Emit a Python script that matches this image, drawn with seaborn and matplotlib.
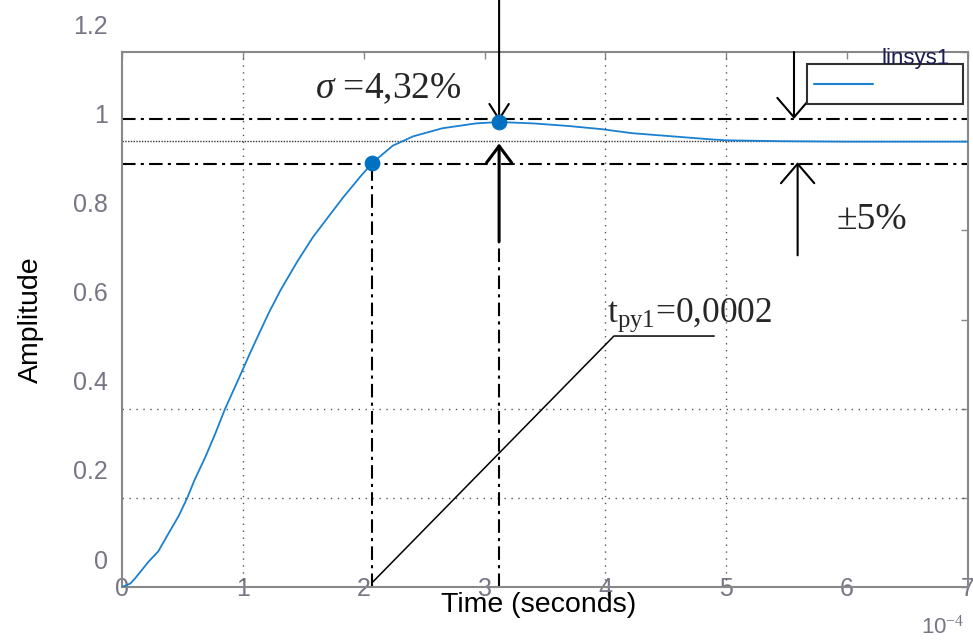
import numpy as np
import matplotlib
matplotlib.use("Agg")
import matplotlib.pyplot as plt
import matplotlib.transforms as mtransforms
from matplotlib.patches import Rectangle
from matplotlib.lines import Line2D
import seaborn as sns

# step response (time in units of 1e-4 s)
time_1e4 = [0, 0.07, 0.11, 0.22, 0.30, 0.38, 0.47, 0.54, 0.60, 0.69, 0.77, 0.85,
            0.96, 1.06, 1.14, 1.22, 1.31, 1.45, 1.58, 1.72, 1.83, 1.97, 2.07, 2.24,
            2.41, 2.65, 2.93, 3.12, 3.40, 3.70, 3.97, 4.22, 4.55, 4.88, 5.00, 5.46,
            6.00, 7.00]
amplitude = [0, 0.008, 0.020, 0.057, 0.080, 0.118, 0.160, 0.200, 0.240, 0.292, 0.343, 0.398,
             0.464, 0.525, 0.572, 0.618, 0.665, 0.730, 0.785, 0.835, 0.874, 0.920, 0.951, 0.990,
             1.011, 1.029, 1.040, 1.043, 1.040, 1.034, 1.027, 1.018, 1.011, 1.004, 1.002, 1.000,
             0.999, 0.999]

# settling point and overshoot peak
marker_t = [2.07, 3.12]
marker_y = [0.951, 1.043]

steady = 1.0
band = [0.95, 1.05]

x_ticks = [0, 1, 2, 3, 4, 5, 6, 7]
y_ticks = [0, 0.2, 0.4, 0.6, 0.8, 1.0, 1.2]
y_ticklabels = ["0", "0.2", "0.4", "0.6", "0.8", "1", "1.2"]
grid_x = [1, 4, 5]
grid_y = [0.2, 0.4]

# leader line for the settling time label
leader_t = [2.07, 4.07, 4.90]
leader_y = [0.01, 0.563, 0.563]

sns.set_style("white")
plt.rcParams["font.family"] = ["Liberation Sans", "DejaVu Sans"]
plt.rcParams["mathtext.fontset"] = "custom"
plt.rcParams["mathtext.rm"] = "Liberation Serif"
plt.rcParams["mathtext.it"] = "Liberation Serif:italic"

curve_col = "#1a80d0"
dot_col = "#0070c0"
tick_col = "#767685"
serif = ["Liberation Serif", "DejaVu Serif"]

fig = plt.figure(figsize=(9.73, 6.41), dpi=100)
ax = fig.add_axes([0.1254, 0.0842, 0.8695, 0.8346])

# grid (only the lines that show in the original)
for g in grid_x:
    ax.axvline(g, color="#555555", lw=1, ls=(0, (1, 4)), zorder=1)
for g in grid_y:
    ax.axhline(g, color="#555555", lw=1, ls=(0, (1, 4)), zorder=1)
ax.axhline(steady, color="#333333", lw=1, ls=(0, (1, 1)), zorder=1)

dashdot = (0, (6.5, 2.5, 1.5, 2.5))
for b in band:
    ax.axhline(b, color="black", lw=1.5, ls=dashdot, zorder=2)
ax.vlines(marker_t[0], 0, marker_y[0], color="black", lw=1.5, ls=dashdot, zorder=2)
ax.vlines(marker_t[1], 0, 0.775, color="black", lw=1.5, ls=dashdot, zorder=2)

sns.lineplot(x=time_1e4, y=amplitude, ax=ax, color=curve_col, lw=1.3,
             estimator=None, sort=False, zorder=3)
sns.scatterplot(x=marker_t, y=marker_y, ax=ax, s=110, color=dot_col,
                edgecolor=dot_col, zorder=4)

ax.plot(leader_t, leader_y, color="black", lw=1.1, zorder=3)

# arrows
def arrow(x0, y0, x1, y1, lw=1.5, hl=0.7, hw=0.6):
    ax.annotate("", xy=(x1, y1), xytext=(x0, y0), annotation_clip=False,
                arrowprops=dict(arrowstyle="->,head_length=%s,head_width=%s" % (hl, hw),
                                color="black", lw=lw, mutation_scale=20,
                                shrinkA=0, shrinkB=0))

arrow(3.12, 1.32, 3.12, 1.045, lw=1.5, hl=0.55, hw=0.35)
arrow(3.12, 0.775, 3.12, 0.995, lw=2.2, hl=0.6, hw=0.45)
arrow(5.56, 1.2, 5.56, 1.05, lw=1.5, hl=0.7, hw=0.6)
arrow(5.59, 0.744, 5.59, 0.953, lw=1.5, hl=0.7, hw=0.6)

ax.text(1.595, 1.118, r"$\sigma$ =4,32%", fontsize=27, family=serif, va="center")
ax.text(6.2, 0.823, "\u00b15%", fontsize=27, family=serif, ha="center", va="center")
ax.text(4.01, 0.594, r"t$_{\mathrm{py1}}$=0,0002", fontsize=25.5, family=serif, va="baseline")

# legend box as drawn by MATLAB
ax.add_patch(Rectangle((0.8097, 0.9028), 0.1843, 0.0748, transform=ax.transAxes,
                       facecolor="white", edgecolor="#303030", lw=1.5, zorder=5,
                       clip_on=False))
ax.add_line(Line2D([0.818, 0.8877], [0.940, 0.940], transform=ax.transAxes,
                   color=curve_col, lw=1.5, zorder=6))
ax.text(0.9385, 0.988, "linsys1", transform=ax.transAxes, fontsize=16,
        color="#1c1c50", ha="center", va="center", zorder=7)

ax.set_xlim(0, 7)
ax.set_ylim(0, 1.2)
ax.set_xticks(x_ticks)
ax.set_xticklabels([str(v) for v in x_ticks])
ax.set_yticks(y_ticks)
ax.set_yticklabels(y_ticklabels)
ax.tick_params(direction="in", length=5, width=1, color="#888888", top=True, right=True,
               labelsize=18, labelcolor=tick_col)
ax.tick_params(axis="x", pad=-7)
ax.tick_params(axis="y", pad=10)

shift = mtransforms.ScaledTranslation(0, 0.28, fig.dpi_scale_trans)
for t in ax.yaxis.get_major_ticks():
    t.label1.set_transform(t.label1.get_transform() + shift)

for s in ax.spines.values():
    s.set_color("#888888")
    s.set_linewidth(1.5)

ax.set_xlabel("Time (seconds)", fontsize=20.5, color="black")
ax.xaxis.set_label_coords(0.493, -0.01)
ax.set_ylabel("Amplitude", fontsize=20.5, color="black")
ax.yaxis.set_label_coords(-0.092, 0.5)
ax.text(0.995, -0.076, r"10$^{-4}$", transform=ax.transAxes, fontsize=16,
        color=tick_col, ha="right", va="center", family=["Liberation Sans", "DejaVu Sans"])

fig.savefig("out.png", dpi=100)
